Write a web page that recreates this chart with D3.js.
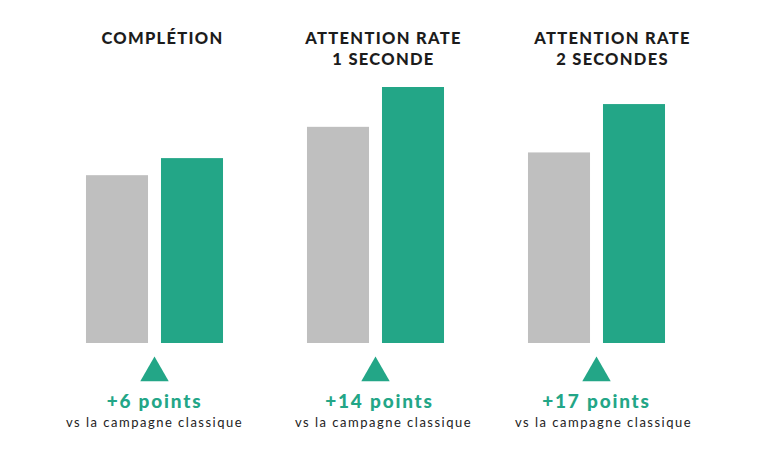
<!DOCTYPE html>
<html>
<head>
<meta charset="utf-8">
<script src="https://cdn.jsdelivr.net/npm/d3@7"></script>
<style>
  html, body { margin: 0; padding: 0; background: #fff; }
  svg { display: block; }
</style>
</head>
<body>
<svg id="chart" width="781" height="450"></svg>
<script>
// ---- data ----
const categories = ["COMPLÉTION", "ATTENTION RATE|1 SECONDE", "ATTENTION RATE|2 SECONDES"];
const series = ["classique", "nouvelle"];
const classiqueValues = [59, 76, 67];
const nouvelleValues = [65, 90, 84];
const gainLabels = ["+6 points", "+14 points", "+17 points"];
const subLabel = "vs la campagne classique";

// ---- layout ----
const W = 781, H = 450;
const baseY = 343;
const colors = { classique: "#bfbfbf", nouvelle: "#23a687" };
const titleShift = [8, 8, 16];
const gainShift = [0, 4, 0];
const subShift = [0, 8, 7];

const svg = d3.select("#chart");

const x0 = d3.scaleBand().domain(categories).range([44, 707]).paddingInner(0.38).paddingOuter(0.19);
const x1 = d3.scaleBand().domain(series).range([0, x0.bandwidth()]).paddingInner(0.173).paddingOuter(0);
const y = d3.scaleLinear().domain([0, 90]).range([baseY, 87]);

const data = categories.map((c, i) => ({
  cat: c, i,
  vals: [{ s: "classique", v: classiqueValues[i] }, { s: "nouvelle", v: nouvelleValues[i] }]
}));

const g = svg.selectAll("g.grp").data(data).join("g")
  .attr("class", "grp")
  .attr("transform", d => `translate(${x0(d.cat)},0)`);

g.selectAll("rect").data(d => d.vals).join("rect")
  .attr("x", d => x1(d.s))
  .attr("width", x1.bandwidth())
  .attr("y", d => y(d.v))
  .attr("height", d => y(0) - y(d.v))
  .attr("fill", d => colors[d.s]);

// titles
g.each(function(d) {
  const lines = d.cat.split("|");
  const cx = x0.bandwidth() / 2 + titleShift[d.i];
  const t = d3.select(this).append("text")
    .attr("text-anchor", "middle")
    .attr("font-family", "Lato, 'Open Sans', sans-serif")
    .attr("font-weight", 900)
    .attr("font-size", 16.5)
    .attr("letter-spacing", 1.3)
    .attr("fill", "#1c1c1c");
  lines.forEach((ln, k) => {
    t.append("tspan").attr("x", cx).attr("y", 44 + k * 21).text(ln);
  });
});

// triangles
const tri = d3.symbol().type(d3.symbolTriangle).size(350);
g.append("path")
  .attr("d", tri)
  .attr("transform", d => `translate(${x0.bandwidth() / 2},${373})`)
  .attr("fill", colors.nouvelle);

// gain labels
g.append("text")
  .attr("x", d => x0.bandwidth() / 2 + gainShift[d.i])
  .attr("y", 408)
  .attr("text-anchor", "middle")
  .attr("font-family", "Lato, 'Open Sans', sans-serif")
  .attr("font-weight", 900)
  .attr("font-size", 19)
  .attr("letter-spacing", 1.8)
  .attr("fill", colors.nouvelle)
  .text((d) => gainLabels[d.i]);

g.append("text")
  .attr("x", d => x0.bandwidth() / 2 + subShift[d.i])
  .attr("y", 427)
  .attr("text-anchor", "middle")
  .attr("font-family", "Lato, 'Open Sans', sans-serif")
  .attr("font-weight", 400)
  .attr("font-size", 13)
  .attr("letter-spacing", 1.5)
  .attr("fill", "#222")
  .text(subLabel);
</script>
</body>
</html>
